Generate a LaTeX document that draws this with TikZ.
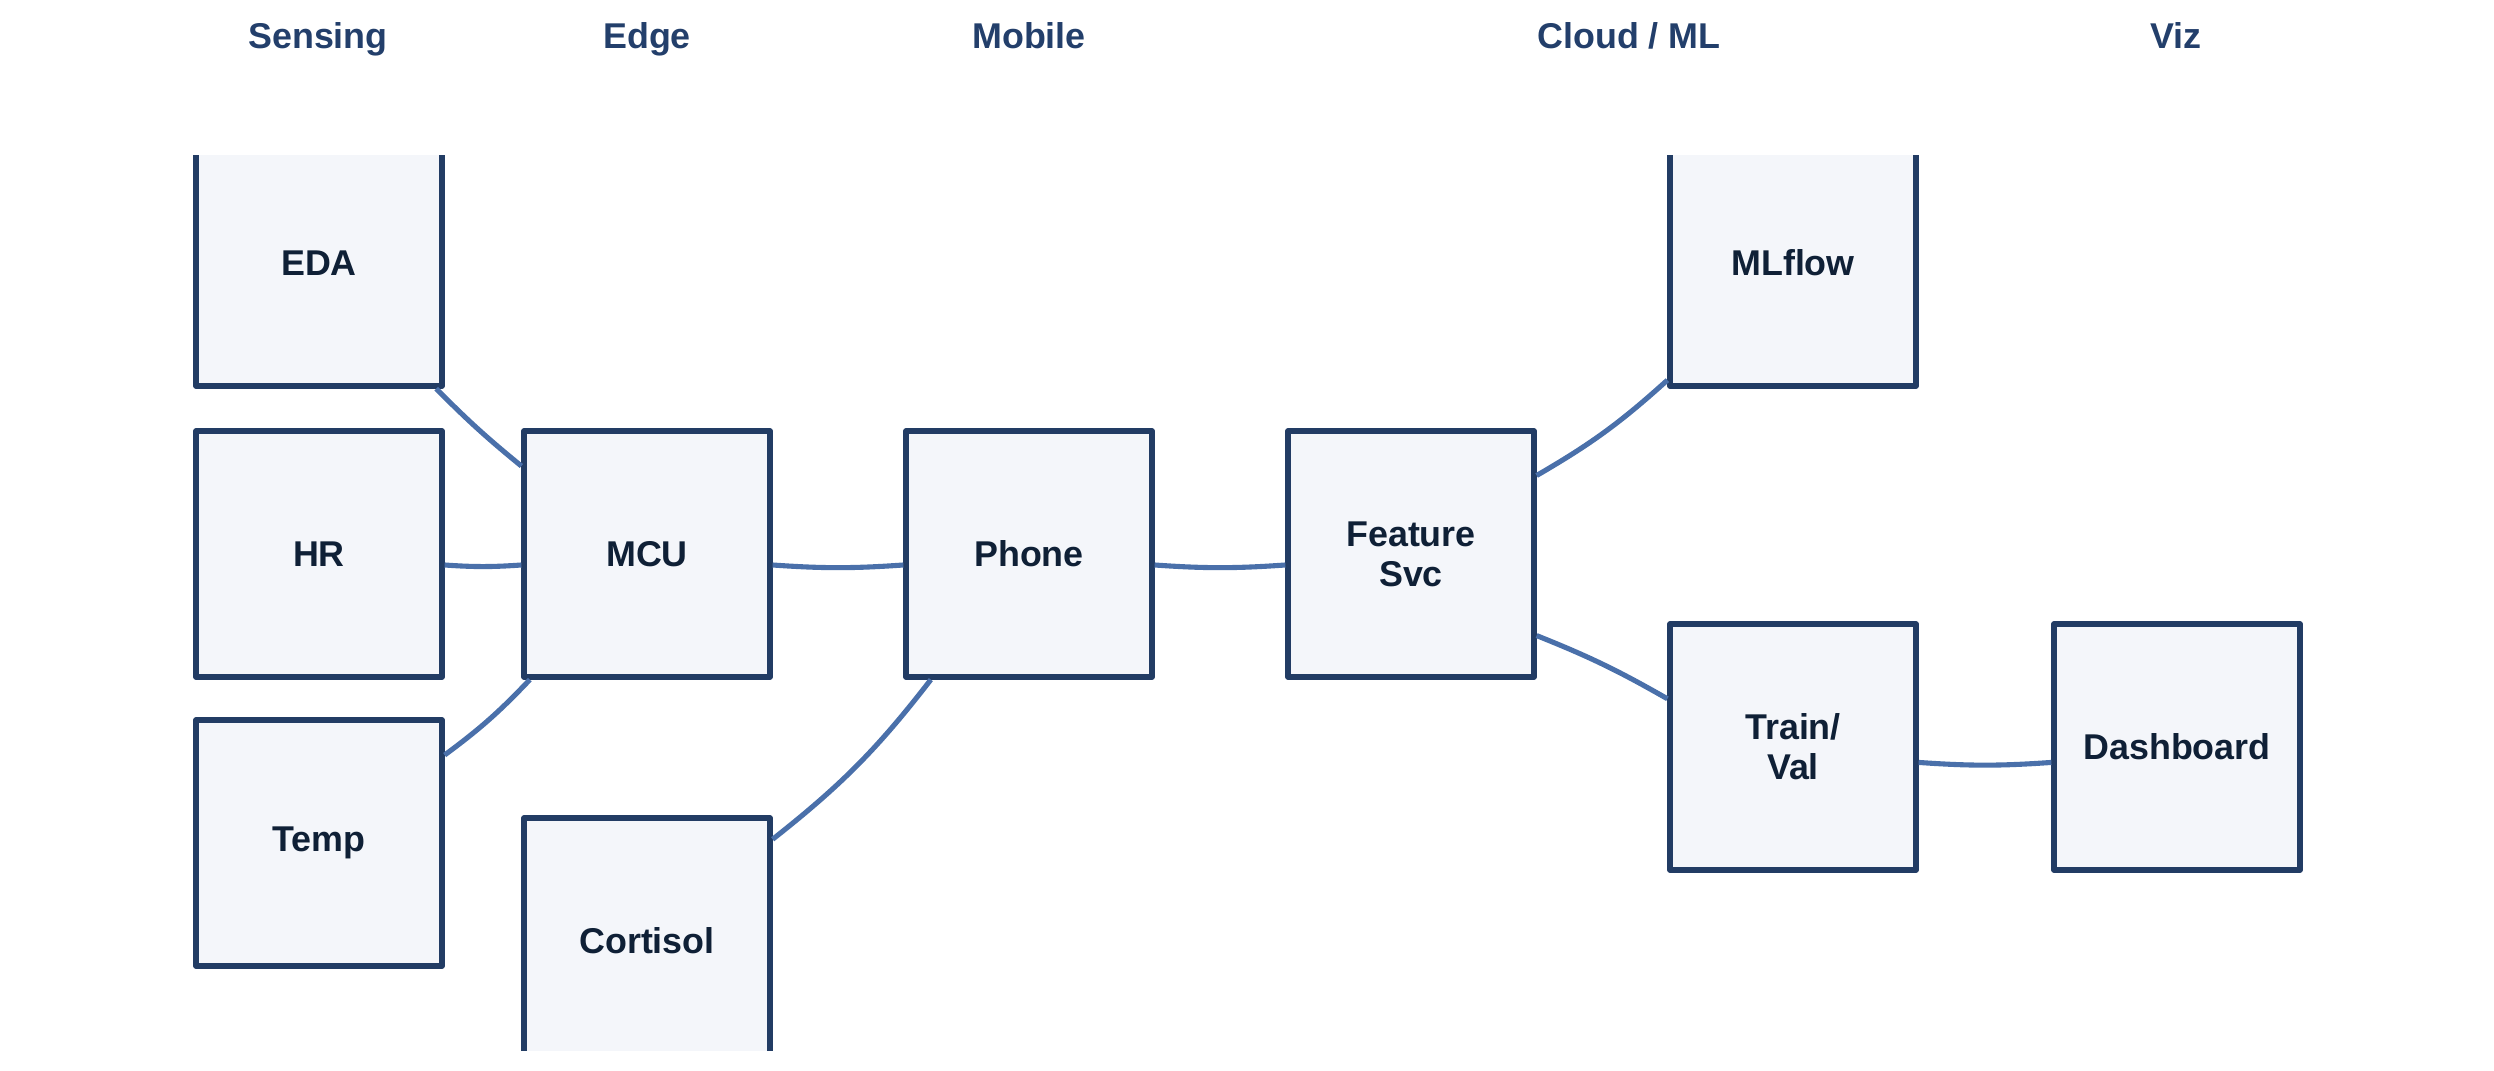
\documentclass[tikz,border=0pt]{standalone}
\usepackage{fontspec}
\setmainfont{Liberation Sans}
\definecolor{boxline}{HTML}{223C64}
\definecolor{boxfill}{HTML}{F4F6FA}
\definecolor{boxtext}{HTML}{0F2036}
\definecolor{headtext}{HTML}{233F6B}
\definecolor{linkcol}{HTML}{4A70AA}
\begin{document}
\begin{tikzpicture}[
    box/.style={draw=boxline,fill=boxfill,line width=1.5pt,line join=round,
        minimum width=2.46cm,minimum height=2.46cm,inner sep=0pt,align=center,
        text=boxtext,font=\fontsize{10.2}{11.4}\selectfont\bfseries},
    link/.style={draw=linkcol,line width=1.45pt},
    head/.style={anchor=base,text=headtext,font=\fontsize{10.2}{12}\selectfont\bfseries},
]
    \useasboundingbox (0,0) rectangle (24.94,-10.71);
    % column titles
    \path
    (3.18,-0.49) node[head] (hsens) {Sensing}
    (6.47,-0.49) node[head] (hedge) {Edge}
    (10.29,-0.49) node[head] (hmob) {Mobile}
    (16.29,-0.49) node[head] (hcloud) {Cloud / ML}
    (21.76,-0.49) node[head] (hviz) {Viz};
    \begin{scope}
        \clip (0,-1.56) rectangle (24.94,-10.50);
        \path
        (3.19,-2.63) node[box] (eda) {EDA} % sensing
        (3.19,-5.54) node[box] (hr) {HR}
        (3.19,-8.43) node[box] (temp) {Temp}
        (6.47,-5.54) node[box] (mcu) {MCU} % edge
        (6.47,-9.41) node[box] (cort) {Cortisol}
        (10.29,-5.54) node[box] (phone) {Phone} % mobile
        (14.11,-5.54) node[box] (feat) {Feature\\Svc} % cloud
        (17.93,-2.63) node[box] (mlflow) {MLflow}
        (17.93,-7.47) node[box] (train) {Train/\\Val}
        (21.77,-7.47) node[box] (dash) {Dashboard}; % viz
        \draw[link] (eda.-47) to[bend right=3] (mcu.145);
        \draw[link] (hr.-5) to[bend right=4] (mcu.185);
        \draw[link] (temp.35) to[bend right=5] (mcu.-133);
        \draw[link] (mcu.-5) to[bend right=4] (phone.185);
        \draw[link] (cort.39) to[bend right=7] (phone.-128);
        \draw[link] (phone.-5) to[bend right=4] (feat.185);
        \draw[link] (feat.32) to[bend right=6] (mlflow.223);
        \draw[link] (feat.-33) to[bend left=4] (train.159);
        \draw[link] (train.-7) to[bend right=4] (dash.187);
    \end{scope}
\end{tikzpicture}
\end{document}
